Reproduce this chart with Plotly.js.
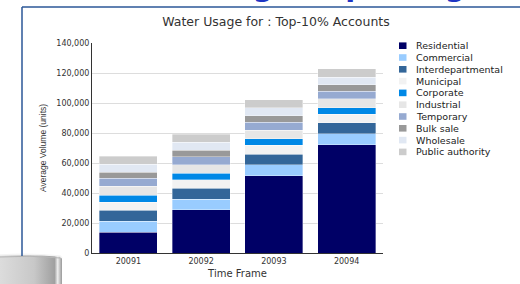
<!DOCTYPE html>
<html>
<head>
<meta charset="utf-8">
<script src="https://cdn.plot.ly/plotly-3.0.1.min.js"></script>
<style>html,body{margin:0;padding:0;background:#fff;}#chart{width:520px;height:284px;}</style>
</head>
<body>
<div id="chart"></div>
<script>
// ---- data ----
const categories = ['20091', '20092', '20093', '20094'];
const seriesNames = ['Residential', 'Commercial', 'Interdepartmental', 'Municipal', 'Corporate',
  'Industrial', 'Temporary', 'Bulk sale', 'Wholesale', 'Public authority'];
const residential = [14000, 28700, 51500, 72200];
const commercial = [7100, 7000, 7400, 7300];
const interdepartmental = [7300, 7400, 7100, 7400];
const municipal = [5600, 5600, 5700, 5500];
const corporate = [4400, 4400, 4500, 4500];
const industrial = [6000, 5800, 5500, 5800];
const temporary = [5300, 5300, 5600, 5300];
const bulkSale = [4300, 4200, 4200, 4200];
const wholesale = [5300, 5300, 5300, 5100];
const publicAuthority = [5100, 5400, 5300, 5400];
const yTickValues = [0, 20000, 40000, 60000, 80000, 100000, 120000, 140000];
const chartTitle = 'Water Usage for : Top-10% Accounts';
const pageTitle = 'Water Usage Reporting';
const xTitle = 'Time Frame';
const yTitle = 'Average Volume (units)';

const seriesValues = [residential, commercial, interdepartmental, municipal, corporate,
  industrial, temporary, bulkSale, wholesale, publicAuthority];
const colors = ['#000066', '#99ccff', '#336699', '#f2f2f2', '#0088e6',
  '#e6e6e6', '#96aad1', '#999999', '#e1e8f3', '#cccccc'];

// ---- geometry helpers (pixel -> paper) ----
const W = 520, H = 284;
const M = {l: 92, r: 137, t: 43, b: 31};
const PW = W - M.l - M.r, PH = H - M.t - M.b;
const px = x => (x - M.l) / PW;
const py = y => (H - M.b - y) / PH;

const traces = seriesNames.map((name, i) => ({
  type: 'bar',
  name: name,
  x: categories,
  y: seriesValues[i],
  marker: {color: colors[i], line: {color: 'rgba(255,255,255,0.7)', width: 0.5}},
  hoverinfo: 'skip'
}));

const shapes = [];
const annotations = [];

// frame lines (background decoration)
shapes.push({type: 'line', xref: 'paper', yref: 'paper', x0: px(22), x1: px(521), y0: py(7), y1: py(7),
  line: {color: '#2b5797', width: 1.5}});
shapes.push({type: 'line', xref: 'paper', yref: 'paper', x0: px(22), x1: px(22), y0: py(7), y1: py(256),
  line: {color: '#2b5797', width: 1.5}});

// cut-off page title (only descenders visible, as in the reference)
annotations.push({xref: 'paper', yref: 'paper', x: px(82), y: py(-14), xanchor: 'left', yanchor: 'middle',
  text: '<b>' + pageTitle + '</b>', showarrow: false,
  font: {family: 'DejaVu Sans', size: 29, color: '#1f35c4'}});

// custom legend
seriesNames.forEach((name, i) => {
  const cy = 45.7 + i * 11.8;
  shapes.push({type: 'rect', xref: 'paper', yref: 'paper', x0: px(399), x1: px(406.5), y0: py(cy - 3.3), y1: py(cy + 3.3),
    fillcolor: colors[i], line: {width: 0}});
  annotations.push({xref: 'paper', yref: 'paper', x: px(414), y: py(cy), xanchor: 'left', yanchor: 'middle',
    text: name, showarrow: false, font: {family: 'DejaVu Sans', size: 9.5, color: '#222'}});
});

const cylSvg = '<svg xmlns="http://www.w3.org/2000/svg" width="64" height="32" viewBox="0 0 64 32">' +
  '<defs><linearGradient id="g" x1="0" y1="0" x2="1" y2="0">' +
  '<stop offset="0" stop-color="#dcdcdc"/><stop offset="0.55" stop-color="#c8c8c8"/>' +
  '<stop offset="0.88" stop-color="#a0a0a0"/><stop offset="0.93" stop-color="#eeeeee"/>' +
  '<stop offset="1" stop-color="#999999"/></linearGradient></defs>' +
  '<path d="M0,3 Q30,1 60,4 L62,6 L62,32 L0,32 Z" fill="url(#g)"/>' +
  '<path d="M0,3 Q30,1 60,4 L62,6" fill="none" stroke="#f4f4f4" stroke-width="1.5"/>' +
  '<path d="M0,5 Q30,3 60,6" fill="none" stroke="#b5b5b5" stroke-width="1"/>' +
  '</svg>';

const layout = {
  width: W, height: H,
  margin: M,
  paper_bgcolor: '#ffffff', plot_bgcolor: '#ffffff',
  barmode: 'stack', bargap: 0.2,
  showlegend: false,
  font: {family: 'DejaVu Sans', size: 8, color: '#333'},
  title: {text: chartTitle, x: 276 / W, xref: 'container', xanchor: 'center',
    y: 1 - 22 / H, yref: 'container', yanchor: 'middle',
    font: {family: 'DejaVu Sans', size: 12.5, color: '#333'}},
  xaxis: {type: 'category', showgrid: false, showline: true, linecolor: '#333', linewidth: 1.3,
    ticks: '', tickfont: {family: 'DejaVu Sans', size: 8, color: '#333'},
    title: {text: xTitle, standoff: 5, font: {family: 'DejaVu Sans', size: 10, color: '#333'}}},
  yaxis: {range: [0, 140000], tickvals: yTickValues, tickformat: ',d', showgrid: true, gridcolor: '#dddddd',
    showline: true, linecolor: '#333', linewidth: 1, zeroline: false, ticks: '',
    tickfont: {family: 'DejaVu Sans', size: 8, color: '#333'},
    title: {text: yTitle, standoff: 8, font: {family: 'Liberation Sans', size: 8.5, color: '#333'}}},
  shapes: shapes,
  annotations: annotations,
  images: [{source: 'data:image/svg+xml;utf8,' + encodeURIComponent(cylSvg), xref: 'paper', yref: 'paper',
    x: px(0), y: py(252), sizex: 64 / PW, sizey: 32 / PH, xanchor: 'left', yanchor: 'top',
    sizing: 'stretch', layer: 'above'}]
};

Plotly.newPlot('chart', traces, layout, {staticPlot: true, displayModeBar: false});
</script>
</body>
</html>
